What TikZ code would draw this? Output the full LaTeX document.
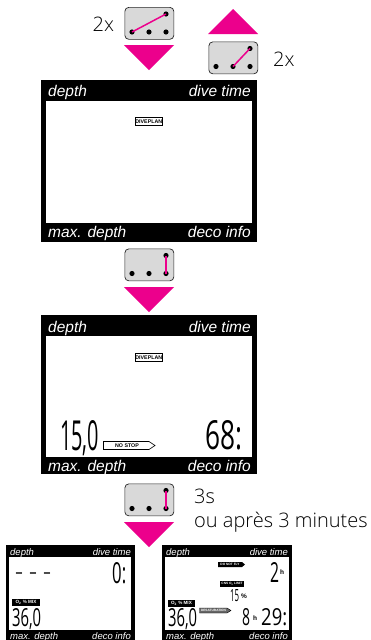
\documentclass[tikz,border=0pt]{standalone}
\usepackage{fontspec}
\usepackage{graphicx}
\setmainfont{Liberation Sans}
\newfontfamily\lightf{Open Sans Light}
\newfontfamily\lcdf{Open Sans}
\definecolor{pinkm}{RGB}{236,0,140}
\definecolor{btng}{RGB}{217,217,217}
\tikzset{
  screenouter/.style={fill=black,draw=none,inner sep=0,anchor=north west},
  screeninner/.style={fill=white,draw=none,inner sep=0,anchor=north west},
  btnbox/.style={fill=btng,draw=black!85,line width=.7pt,rounded corners=4pt,inner sep=0,anchor=north west,minimum width=49pt,minimum height=32pt},
  btndot/.style={circle,fill=black,inner sep=0,minimum size=5.2pt},
  btnline/.style={draw=pinkm,line width=1.5pt},
  tri/.style={fill=pinkm,draw=none},
  biglabel/.style={text=white,font=\itshape\fontsize{15.5}{16}\selectfont,inner sep=0},
  smalllabel/.style={text=white,font=\itshape\fontsize{9.5}{10}\selectfont,inner sep=0},
  sidetext/.style={font=\lightf\fontsize{20}{21}\selectfont,inner sep=0,anchor=base west,text=black},
  lcd/.style={inner sep=0,anchor=north west},
  tagbox/.style={draw=black,fill=white,line width=.6pt,inner sep=0},
  tagtext/.style={font=\bfseries\fontsize{5.3}{5.3}\selectfont,inner sep=0},
  tinytext/.style={font=\bfseries\fontsize{4.6}{5}\selectfont,inner sep=0},
  microtext/.style={font=\bfseries\fontsize{3.2}{3.2}\selectfont,inner sep=0},
  unittext/.style={font=\bfseries\fontsize{6.5}{6.5}\selectfont,inner sep=0},
}
% name, x, y, index of the bottom dot joined to the top right one
\newcommand{\btnat}[4]{%
  \node[btnbox] (#1) at (#2,#3) {};
  \node[btndot] (#1a) at (#2+7.5,#3+25) {};
  \node[btndot] (#1b) at (#2+24.5,#3+25) {};
  \node[btndot] (#1c) at (#2+41.5,#3+25) {};
  \node[btndot] (#1t) at (#2+41.5,#3+7) {};
  \draw[btnline] (#1#4.center) -- (#1t.center);
}
% name, x0, x1, ytop, ybottom, text
\newcommand{\lcdat}[6]{%
  \pgfmathsetmacro{\lw}{#3-#2}\pgfmathsetmacro{\lh}{#5-#4}%
  \node[lcd] (#1) at (#2,#4) {\resizebox{\lw pt}{\lh pt}{\lcdf #6}};
}
\newcommand{\screenat}[9]{%
  \pgfmathsetmacro{\ow}{#3-#2}\pgfmathsetmacro{\oh}{#5-#4}%
  \pgfmathsetmacro{\iw}{#7-#6}\pgfmathsetmacro{\ih}{#9-#8}%
  \node[screenouter,minimum width=\ow pt,minimum height=\oh pt] (#1) at (#2,#4) {};
  \node[screeninner,minimum width=\iw pt,minimum height=\ih pt] (#1i) at (#6,#8) {};
}
\begin{document}
\begin{tikzpicture}[x=1pt,y=-1pt]
\useasboundingbox (0,0) rectangle (371,640);
\fill[white] (0,0) rectangle (371,640);

% top row
\node[sidetext] (tx1) at (92.5,31) {2x};
\btnat{ba}{124.5}{7}{a}
\path[tri] (124,45) -- (174,45) -- (149,70) -- cycle;
\path[tri] (208,34) -- (258,34) -- (233,9) -- cycle;
\btnat{bb}{208.5}{41.5}{b}
\node[sidetext] (tx2) at (273,66) {2x};

% screen 1
\screenat{s1}{41}{256.5}{80}{242}{46}{251.5}{101}{223}
\node[biglabel,anchor=base west] (s1tl) at (48,96) {depth};
\node[biglabel,anchor=base east] (s1tr) at (251,96) {dive time};
\node[biglabel,anchor=base west] (s1bl) at (48,237) {max. depth};
\node[biglabel,anchor=base east] (s1br) at (251,237) {deco info};
\node[tagbox,minimum width=27pt,minimum height=8pt,anchor=north west] (s1d) at (135,117) {};
\node[tagtext] at (s1d.center) {DIVEPLAN};

\btnat{bc}{124.5}{248.5}{c}
\path[tri] (124,287) -- (174,287) -- (149,312) -- cycle;

% screen 2
\screenat{s2}{41}{257}{315}{474}{46}{251.5}{336}{457}
\node[biglabel,anchor=base west] (s2tl) at (48,332) {depth};
\node[biglabel,anchor=base east] (s2tr) at (251,332) {dive time};
\node[biglabel,anchor=base west] (s2bl) at (48,471) {max. depth};
\node[biglabel,anchor=base east] (s2br) at (251,471) {deco info};
\node[tagbox,minimum width=27pt,minimum height=8pt,anchor=north west] (s2d) at (135,353) {};
\node[tagtext] at (s2d.center) {DIVEPLAN};
\lcdat{s2n}{60}{99}{420}{450}{15,0}
\lcdat{s2m}{205}{242}{420}{449}{68:}
\draw[black,fill=white,line width=.6pt] (103.5,441.5) -- (149,441.5) -- (155,445.5) -- (149,449.5) -- (103.5,449.5) -- cycle;
\node[tagtext] (s2s) at (127,445.5) {NO STOP};

\btnat{bd}{124.5}{483.5}{c}
\node[sidetext] (tx3) at (194,503) {3s};
\node[sidetext] (tx4) at (194,527) {ou après 3 minutes};
\path[tri] (124,522) -- (174,522) -- (149,547) -- cycle;

% screen 3
\screenat{s3}{6}{134.5}{545}{640}{9}{131}{557}{630}
\node[smalllabel,anchor=base west] (s3tl) at (10,555) {depth};
\node[smalllabel,anchor=base east] (s3tr) at (131,555) {dive time};
\node[smalllabel,anchor=base west] (s3bl) at (10,639) {max. depth};
\node[smalllabel,anchor=base east] (s3br) at (131,639) {deco info};
\lcdat{s3d}{15}{51}{572.3}{576}{\rmfamily\bfseries -\hspace{.25em}-\hspace{.25em}-}
\lcdat{s3z}{112}{126}{562}{583}{0:}
\fill[black] (12,599) rectangle (40,605.5);
\node[tinytext,text=white] (s3o) at (26,602.3) {O\textsubscript{2} \% MIX};
\lcdat{s3m}{12}{41}{608}{626}{36,0}

% screen 4
\screenat{s4}{162}{292}{545}{640}{165}{288.5}{557}{630}
\node[smalllabel,anchor=base west] (s4tl) at (166,555) {depth};
\node[smalllabel,anchor=base east] (s4tr) at (288,555) {dive time};
\node[smalllabel,anchor=base west] (s4bl) at (166,639) {max. depth};
\node[smalllabel,anchor=base east] (s4br) at (288,639) {deco info};
\fill[black] (218,562) -- (242,562) -- (245,564.5) -- (242,567) -- (218,567) -- cycle;
\node[microtext,text=white] (s4f) at (230,564.5) {DO NOT FLY};
\lcdat{s4h}{270}{279}{562}{582}{2}
\node[unittext] (s4hh) at (282,572) {h};
\fill[black] (220,581) rectangle (244,586.5);
\node[microtext,text=white] (s4c) at (232,583.8) {CNS O\textsubscript{2} LIMIT};
\lcdat{s4p}{230}{239}{589}{601}{15}
\node[unittext] (s4pc) at (244,596) {\%};
\fill[black] (168,600) rectangle (195,606.5);
\node[tinytext,text=white] (s4o) at (181.5,603.3) {O\textsubscript{2} \% MIX};
\lcdat{s4m}{168}{197}{608}{626}{36,0}
\draw[black,fill=black!60,line width=.4pt] (199.5,608) -- (227,608) -- (231,610.5) -- (227,613) -- (199.5,613) -- cycle;
\node[microtext,text=white] (s4s) at (213.5,610.5) {DESATURATION};
\lcdat{s4e}{242}{250}{608}{625}{8}
\node[unittext] (s4eh) at (255,618) {h};
\lcdat{s4t}{261}{287}{608}{625}{29:}
\end{tikzpicture}
\end{document}
